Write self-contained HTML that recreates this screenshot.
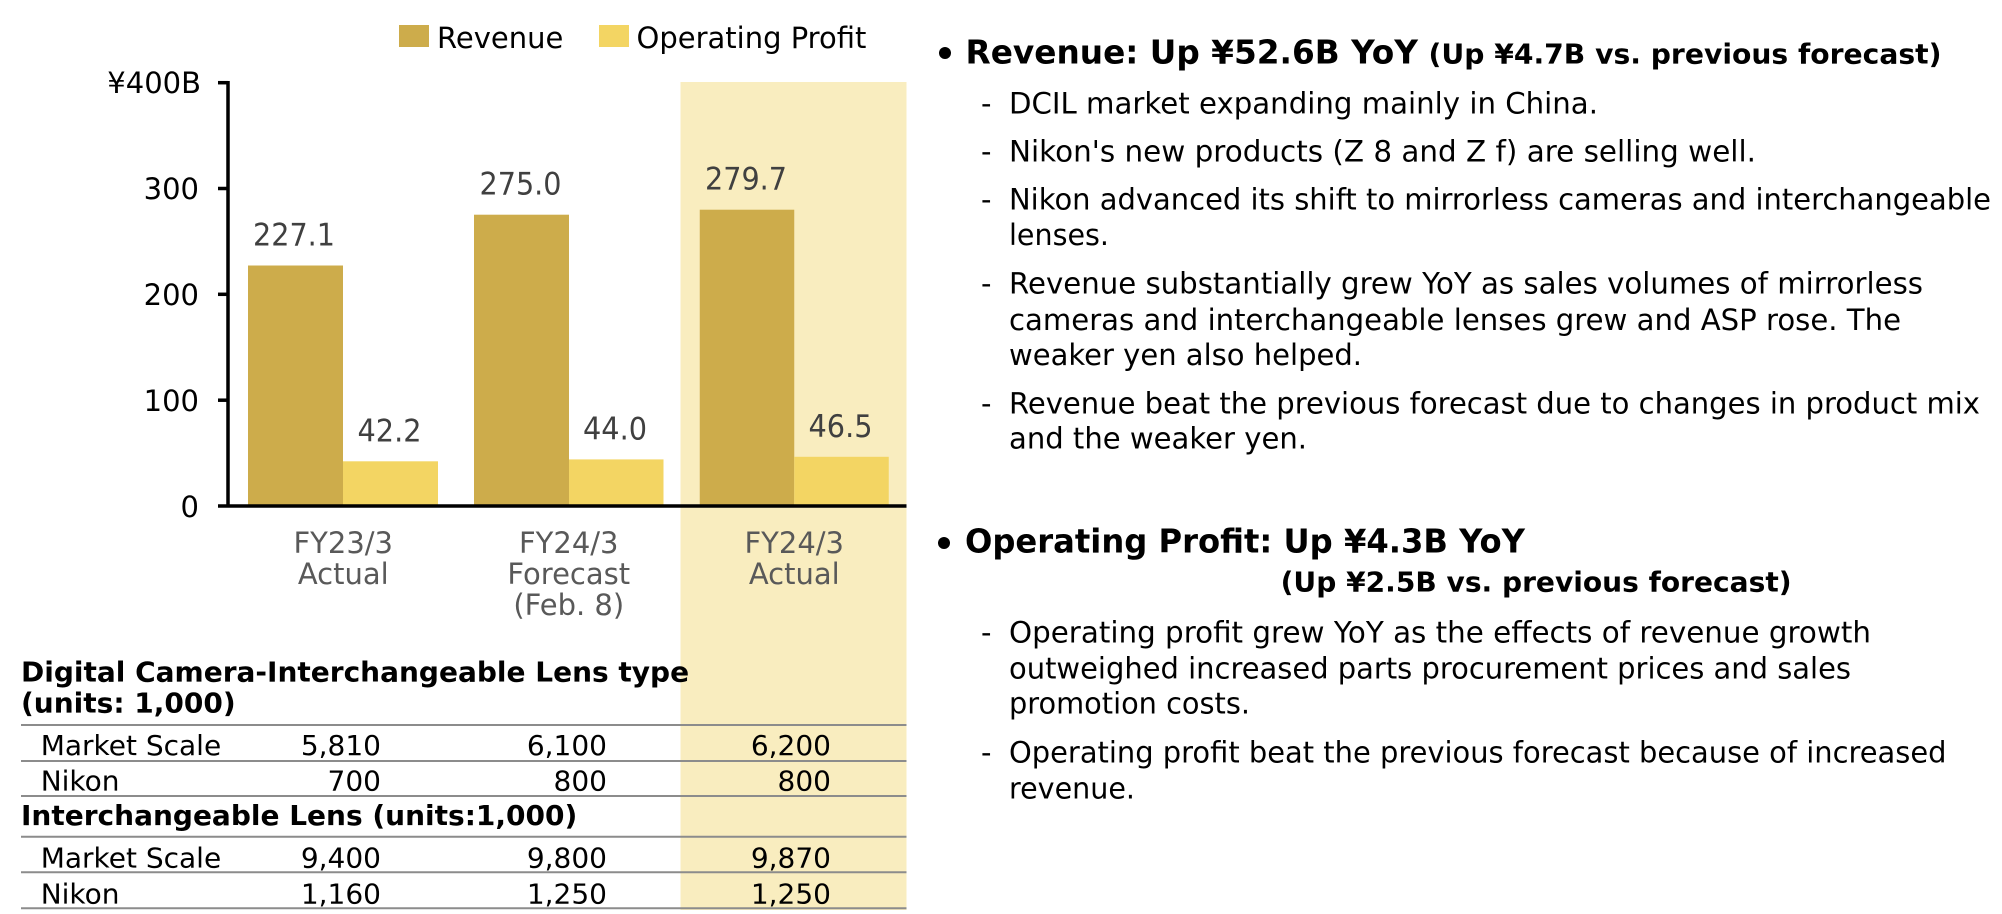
<!DOCTYPE html>
<html>
<head>
<meta charset="utf-8">
<style>
  html, body { margin:0; padding:0; background:#ffffff; }
  body { width:2002px; height:914px; overflow:hidden; }
  svg { display:block; }
  text { font-family: "DejaVu Sans", "Liberation Sans", sans-serif; }
</style>
</head>
<body>
<svg width="2002" height="914" viewBox="0 0 2002 914" xmlns="http://www.w3.org/2000/svg">
  <rect x="0" y="0" width="2002" height="914" fill="#ffffff"/>

  <!-- highlight band -->
  <rect x="680.5" y="82" width="226" height="828" fill="#F9EDBF"/>

  <!-- Legend -->
  <rect x="399" y="25" width="30" height="22" fill="#CDAC4B"/>
  <text x="437" y="48" font-size="29" fill="#000">Revenue</text>
  <rect x="599" y="25" width="30" height="22" fill="#F3D563"/>
  <text x="636.5" y="48" font-size="29" fill="#000">Operating Profit</text>

  <!-- Bars -->
  <rect x="248" y="265.5" width="95" height="240.5" fill="#CDAC4B"/>
  <rect x="343" y="461.3" width="95" height="44.7" fill="#F3D563"/>
  <rect x="474" y="214.7" width="95" height="291.3" fill="#CDAC4B"/>
  <rect x="569" y="459.4" width="94.5" height="46.6" fill="#F3D563"/>
  <rect x="699.75" y="209.7" width="94.5" height="296.3" fill="#CDAC4B"/>
  <rect x="794.25" y="456.8" width="94.5" height="49.2" fill="#F3D563"/>

  <!-- Value labels -->
  <g font-size="31" fill="#404040" text-anchor="middle">
    <text x="294" y="245.5" textLength="82" lengthAdjust="spacingAndGlyphs">227.1</text>
    <text x="389.5" y="441.3" textLength="64" lengthAdjust="spacingAndGlyphs">42.2</text>
    <text x="520.5" y="194.7" textLength="82" lengthAdjust="spacingAndGlyphs">275.0</text>
    <text x="615" y="439.4" textLength="64" lengthAdjust="spacingAndGlyphs">44.0</text>
    <text x="746" y="189.7" textLength="82" lengthAdjust="spacingAndGlyphs">279.7</text>
    <text x="840.5" y="436.8" textLength="64" lengthAdjust="spacingAndGlyphs">46.5</text>
  </g>

  <!-- Axes -->
  <line x1="228" y1="81" x2="228" y2="507.5" stroke="#000" stroke-width="3.5"/>
  <line x1="218" y1="506" x2="906.5" y2="506" stroke="#000" stroke-width="3.5"/>
  <g stroke="#000" stroke-width="3.5">
    <line x1="218" y1="82.7" x2="228" y2="82.7"/>
    <line x1="218" y1="188.5" x2="228" y2="188.5"/>
    <line x1="218" y1="294.3" x2="228" y2="294.3"/>
    <line x1="218" y1="400.2" x2="228" y2="400.2"/>
  </g>
  <g font-size="29" fill="#000" text-anchor="end">
    <text x="201" y="93">¥400B</text>
    <text x="199" y="199">300</text>
    <text x="199" y="305">200</text>
    <text x="199" y="411">100</text>
    <text x="199" y="517">0</text>
  </g>

  <!-- Category labels -->
  <g font-size="29" fill="#595959" text-anchor="middle">
    <text x="343.25" y="553">FY23/3</text>
    <text x="343.25" y="584">Actual</text>
    <text x="568.75" y="553">FY24/3</text>
    <text x="568.75" y="584">Forecast</text>
    <text x="568.75" y="615">(Feb. 8)</text>
    <text x="794.25" y="553">FY24/3</text>
    <text x="794.25" y="584">Actual</text>
  </g>

  <!-- Table -->
  <g font-size="28" fill="#000">
    <text x="21" y="681.7" font-weight="bold">Digital Camera-Interchangeable Lens type</text>
    <text x="21" y="712.7" font-weight="bold">(units: 1,000)</text>
    <text x="40.7" y="755">Market Scale</text>
    <text x="40.7" y="790.7">Nikon</text>
    <text x="21" y="825" font-weight="bold">Interchangeable Lens (units:1,000)</text>
    <text x="40.7" y="867.3">Market Scale</text>
    <text x="40.7" y="903.3">Nikon</text>
  </g>
  <g font-size="28" fill="#000" text-anchor="end">
    <text x="381" y="755">5,810</text>
    <text x="607" y="755">6,100</text>
    <text x="831" y="755">6,200</text>
    <text x="381" y="790.7">700</text>
    <text x="607" y="790.7">800</text>
    <text x="831" y="790.7">800</text>
    <text x="381" y="867.3">9,400</text>
    <text x="607" y="867.3">9,800</text>
    <text x="831" y="867.3">9,870</text>
    <text x="381" y="903.3">1,160</text>
    <text x="607" y="903.3">1,250</text>
    <text x="831" y="903.3">1,250</text>
  </g>
  <g stroke="#8C8C8C" stroke-width="2">
    <line x1="21" y1="725" x2="906.5" y2="725"/>
    <line x1="21" y1="761" x2="906.5" y2="761"/>
    <line x1="21" y1="796" x2="906.5" y2="796"/>
    <line x1="21" y1="836.7" x2="906.5" y2="836.7"/>
    <line x1="21" y1="872.3" x2="906.5" y2="872.3"/>
    <line x1="21" y1="908.3" x2="906.5" y2="908.3"/>
  </g>

  <!-- Right column: Revenue -->
  <circle cx="945" cy="53" r="6" fill="#000"/>
  <text x="965.5" y="63.3" font-size="32.5" font-weight="bold" fill="#000" textLength="452.5" lengthAdjust="spacingAndGlyphs">Revenue: Up ¥52.6B YoY</text>
  <text x="1428.5" y="63.3" font-size="28" font-weight="bold" fill="#000" textLength="513" lengthAdjust="spacingAndGlyphs">(Up ¥4.7B vs. previous forecast)</text>

  <g font-size="29" fill="#000">
    <text x="981" y="113.3">-</text>
    <text x="1009" y="113.3" textLength="589" lengthAdjust="spacingAndGlyphs">DCIL market expanding mainly in China.</text>
    <text x="981" y="161.7">-</text>
    <text x="1009" y="161.7" textLength="747" lengthAdjust="spacingAndGlyphs">Nikon's new products (Z 8 and Z f) are selling well.</text>
    <text x="981" y="209.5">-</text>
    <text x="1009" y="209.5" textLength="982" lengthAdjust="spacingAndGlyphs">Nikon advanced its shift to mirrorless cameras and interchangeable</text>
    <text x="1009" y="245" textLength="100" lengthAdjust="spacingAndGlyphs">lenses.</text>
    <text x="981" y="293.3">-</text>
    <text x="1009" y="293.3" textLength="914" lengthAdjust="spacingAndGlyphs">Revenue substantially grew YoY as sales volumes of mirrorless</text>
    <text x="1009" y="330" textLength="892" lengthAdjust="spacingAndGlyphs">cameras and interchangeable lenses grew and ASP rose. The</text>
    <text x="1009" y="365" textLength="353" lengthAdjust="spacingAndGlyphs">weaker yen also helped.</text>
    <text x="981" y="413.3">-</text>
    <text x="1009" y="413.3" textLength="971" lengthAdjust="spacingAndGlyphs">Revenue beat the previous forecast due to changes in product mix</text>
    <text x="1009" y="448.3" textLength="298" lengthAdjust="spacingAndGlyphs">and the weaker yen.</text>
  </g>

  <!-- Right column: Operating Profit -->
  <circle cx="944" cy="543" r="6" fill="#000"/>
  <text x="965" y="552.7" font-size="32.5" font-weight="bold" fill="#000" textLength="560" lengthAdjust="spacingAndGlyphs">Operating Profit: Up ¥4.3B YoY</text>
  <text x="1280.6" y="591.7" font-size="28" font-weight="bold" fill="#000" textLength="511" lengthAdjust="spacingAndGlyphs">(Up ¥2.5B vs. previous forecast)</text>

  <g font-size="29" fill="#000">
    <text x="981" y="642.7">-</text>
    <text x="1009" y="642.7" textLength="862" lengthAdjust="spacingAndGlyphs">Operating profit grew YoY as the effects of revenue growth</text>
    <text x="1009" y="678.3" textLength="842" lengthAdjust="spacingAndGlyphs">outweighed increased parts procurement prices and sales</text>
    <text x="1009" y="713.3" textLength="241" lengthAdjust="spacingAndGlyphs">promotion costs.</text>
    <text x="981" y="762.7">-</text>
    <text x="1009" y="762.7" textLength="937.5" lengthAdjust="spacingAndGlyphs">Operating profit beat the previous forecast because of increased</text>
    <text x="1009" y="798.3" textLength="126" lengthAdjust="spacingAndGlyphs">revenue.</text>
  </g>
</svg>
</body>
</html>
